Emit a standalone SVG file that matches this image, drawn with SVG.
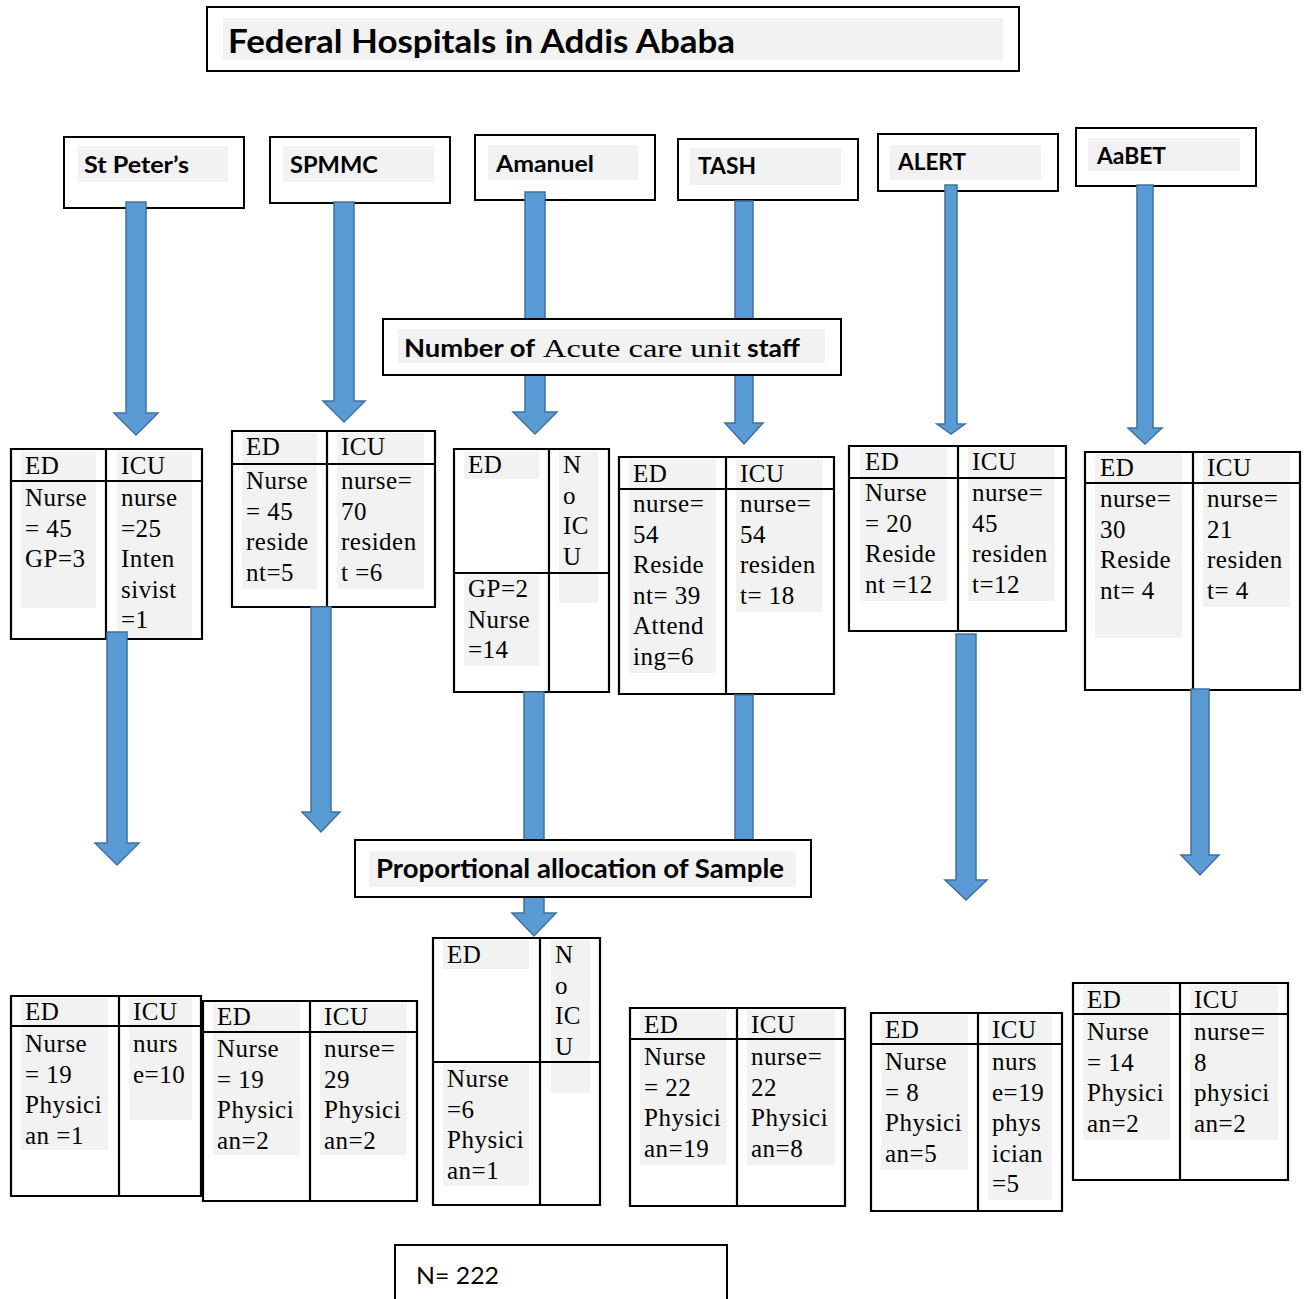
<svg xmlns="http://www.w3.org/2000/svg" width="1309" height="1299" viewBox="0 0 1309 1299">
<style>
.box{fill:#fff;stroke:#000;stroke-width:2}
.bg{fill:#fff}
.grid{fill:none;stroke:#000;stroke-width:2.2}
.hl{fill:#F2F2F2}
.lbl{font-family:Lato,"Liberation Sans",sans-serif;font-weight:bold;fill:#000}
.reg{font-family:Lato,"Liberation Sans",sans-serif;fill:#000}
.t{font-family:"Liberation Serif","Times New Roman",serif;font-size:25px;letter-spacing:0.5px;fill:#000}
.arr{fill:#5B9BD5;stroke:#41719C;stroke-width:1.5}
</style>
<rect width="1309" height="1299" fill="#fff"/>

<g id="title">
<rect class="box" x="207" y="7" width="812" height="64"/>
<rect class="hl" x="223" y="18" width="780" height="42"/>
<text class="lbl" x="228" y="53" font-size="32" textLength="507" lengthAdjust="spacingAndGlyphs">Federal Hospitals in Addis Ababa</text>
</g>

<g id="h-stpeters">
<rect class="box" x="64" y="137" width="180" height="71"/>
<rect class="hl" x="78" y="146" width="150" height="36"/>
<text class="lbl" x="84" y="173" font-size="22" textLength="105" lengthAdjust="spacingAndGlyphs">St Peter’s</text>
</g>
<g id="h-spmmc">
<rect class="box" x="270" y="137" width="180" height="66"/>
<rect class="hl" x="283" y="146" width="151" height="36"/>
<text class="lbl" x="290" y="173" font-size="22" textLength="88" lengthAdjust="spacingAndGlyphs">SPMMC</text>
</g>
<g id="h-amanuel">
<rect class="box" x="475" y="135" width="180" height="65"/>
<rect class="hl" x="488" y="145" width="150" height="35"/>
<text class="lbl" x="496" y="172" font-size="22" textLength="98" lengthAdjust="spacingAndGlyphs">Amanuel</text>
</g>
<g id="h-tash">
<rect class="box" x="678" y="139" width="180" height="61"/>
<rect class="hl" x="690" y="148" width="151" height="37"/>
<text class="lbl" x="698" y="174" font-size="22" textLength="58" lengthAdjust="spacingAndGlyphs">TASH</text>
</g>
<g id="h-alert">
<rect class="box" x="878" y="134" width="180" height="57"/>
<rect class="hl" x="890" y="145" width="151" height="35"/>
<text class="lbl" x="898" y="170" font-size="22" textLength="68" lengthAdjust="spacingAndGlyphs">ALERT</text>
</g>
<g id="h-aabet">
<rect class="box" x="1076" y="128" width="180" height="58"/>
<rect class="hl" x="1088" y="138" width="152" height="33"/>
<text class="lbl" x="1097" y="164" font-size="22" textLength="69" lengthAdjust="spacingAndGlyphs">AaBET</text>
</g>

<!-- staff tables -->
<g id="s-stpeters">
<rect class="bg" x="11" y="449" width="191" height="190"/>
<rect class="hl" x="21" y="451" width="75" height="157"/>
<rect class="hl" x="117" y="451" width="75" height="188"/>
<text class="t" x="25" y="474">ED</text>
<text class="t"><tspan x="25" y="506">Nurse</tspan><tspan x="25" y="536.5">= 45</tspan><tspan x="25" y="567">GP=3</tspan></text>
<text class="t" x="121" y="474">ICU</text>
<text class="t"><tspan x="121" y="506">nurse</tspan><tspan x="121" y="536.5">=25</tspan><tspan x="121" y="567">Inten</tspan><tspan x="121" y="597.5">sivist</tspan><tspan x="121" y="628">=1</tspan></text>
<path class="grid" d="M11 449H202V639H11Z M106 449V639 M11 481H202"/>
</g>
<g id="s-spmmc">
<rect class="bg" x="232" y="431" width="203" height="176"/>
<rect class="hl" x="242" y="433" width="75" height="156"/>
<rect class="hl" x="337" y="433" width="87" height="156"/>
<text class="t" x="246" y="455">ED</text>
<text class="t"><tspan x="246" y="489">Nurse</tspan><tspan x="246" y="519.5">= 45</tspan><tspan x="246" y="550">reside</tspan><tspan x="246" y="580.5">nt=5</tspan></text>
<text class="t" x="341" y="455">ICU</text>
<text class="t"><tspan x="341" y="489">nurse=</tspan><tspan x="341" y="519.5">70</tspan><tspan x="341" y="550">residen</tspan><tspan x="341" y="580.5">t =6</tspan></text>
<path class="grid" d="M232 431H435V607H232Z M327 431V607 M232 464H435"/>
</g>
<g id="s-amanuel">
<rect class="bg" x="454" y="449" width="155" height="243"/>
<rect class="hl" x="464" y="451" width="75" height="28"/>
<rect class="hl" x="559" y="451" width="39" height="152"/>
<rect class="hl" x="464" y="575" width="75" height="91"/>
<text class="t" x="468" y="473">ED</text>
<text class="t"><tspan x="563" y="473">N</tspan><tspan x="563" y="503.5">o</tspan><tspan x="563" y="534">IC</tspan><tspan x="563" y="564.5">U</tspan></text>
<text class="t"><tspan x="468" y="597">GP=2</tspan><tspan x="468" y="627.5">Nurse</tspan><tspan x="468" y="658">=14</tspan></text>
<path class="grid" d="M454 449H609V692H454Z M549 449V692 M454 573H609"/>
</g>
<g id="s-tash">
<rect class="bg" x="619" y="457" width="215" height="237"/>
<rect class="hl" x="629" y="459" width="87" height="214"/>
<rect class="hl" x="736" y="459" width="87" height="153"/>
<text class="t" x="633" y="482">ED</text>
<text class="t"><tspan x="633" y="512">nurse=</tspan><tspan x="633" y="542.5">54</tspan><tspan x="633" y="573">Reside</tspan><tspan x="633" y="603.5">nt= 39</tspan><tspan x="633" y="634">Attend</tspan><tspan x="633" y="664.5">ing=6</tspan></text>
<text class="t" x="740" y="482">ICU</text>
<text class="t"><tspan x="740" y="512">nurse=</tspan><tspan x="740" y="542.5">54</tspan><tspan x="740" y="573">residen</tspan><tspan x="740" y="603.5">t= 18</tspan></text>
<path class="grid" d="M619 457H834V694H619Z M726 457V694 M619 489H834"/>
</g>
<g id="s-alert">
<rect class="bg" x="849" y="446" width="217" height="185"/>
<rect class="hl" x="860" y="448" width="87" height="153"/>
<rect class="hl" x="968" y="448" width="87" height="153"/>
<text class="t" x="865" y="470">ED</text>
<text class="t"><tspan x="865" y="501">Nurse</tspan><tspan x="865" y="531.5">= 20</tspan><tspan x="865" y="562">Reside</tspan><tspan x="865" y="592.5">nt =12</tspan></text>
<text class="t" x="972" y="470">ICU</text>
<text class="t"><tspan x="972" y="501">nurse=</tspan><tspan x="972" y="531.5">45</tspan><tspan x="972" y="562">residen</tspan><tspan x="972" y="592.5">t=12</tspan></text>
<path class="grid" d="M849 446H1066V631H849Z M958 446V631 M849 478H1066"/>
</g>
<g id="s-aabet">
<rect class="bg" x="1085" y="452" width="215" height="238"/>
<rect class="hl" x="1095" y="454" width="87" height="184"/>
<rect class="hl" x="1203" y="454" width="87" height="153"/>
<text class="t" x="1100" y="476">ED</text>
<text class="t"><tspan x="1100" y="507">nurse=</tspan><tspan x="1100" y="537.5">30</tspan><tspan x="1100" y="568">Reside</tspan><tspan x="1100" y="598.5">nt= 4</tspan></text>
<text class="t" x="1207" y="476">ICU</text>
<text class="t"><tspan x="1207" y="507">nurse=</tspan><tspan x="1207" y="537.5">21</tspan><tspan x="1207" y="568">residen</tspan><tspan x="1207" y="598.5">t= 4</tspan></text>
<path class="grid" d="M1085 452H1300V690H1085Z M1193 452V690 M1085 483H1300"/>
</g>

<!-- sample tables -->
<g id="p-stpeters">
<rect class="bg" x="11" y="996" width="190" height="200"/>
<rect class="hl" x="21" y="998" width="87" height="152"/>
<rect class="hl" x="129" y="998" width="63" height="122"/>
<text class="t" x="25" y="1020">ED</text>
<text class="t"><tspan x="25" y="1052">Nurse</tspan><tspan x="25" y="1082.5">= 19</tspan><tspan x="25" y="1113">Physici</tspan><tspan x="25" y="1143.5">an =1</tspan></text>
<text class="t" x="133" y="1020">ICU</text>
<text class="t"><tspan x="133" y="1052">nurs</tspan><tspan x="133" y="1082.5">e=10</tspan></text>
<path class="grid" d="M11 996H201V1196H11Z M119 996V1196 M11 1026H201"/>
</g>
<g id="p-spmmc">
<rect class="bg" x="203" y="1001" width="214" height="200"/>
<rect class="hl" x="213" y="1003" width="87" height="152"/>
<rect class="hl" x="320" y="1003" width="87" height="152"/>
<text class="t" x="217" y="1025">ED</text>
<text class="t"><tspan x="217" y="1057">Nurse</tspan><tspan x="217" y="1087.5">= 19</tspan><tspan x="217" y="1118">Physici</tspan><tspan x="217" y="1148.5">an=2</tspan></text>
<text class="t" x="324" y="1025">ICU</text>
<text class="t"><tspan x="324" y="1057">nurse=</tspan><tspan x="324" y="1087.5">29</tspan><tspan x="324" y="1118">Physici</tspan><tspan x="324" y="1148.5">an=2</tspan></text>
<path class="grid" d="M203 1001H417V1201H203Z M310 1001V1201 M203 1032H417"/>
</g>
<g id="p-amanuel">
<rect class="bg" x="433" y="938" width="167" height="267"/>
<rect class="hl" x="443" y="940" width="86" height="29"/>
<rect class="hl" x="551" y="940" width="39" height="153"/>
<rect class="hl" x="443" y="1064" width="86" height="122"/>
<text class="t" x="447" y="963">ED</text>
<text class="t"><tspan x="555" y="963">N</tspan><tspan x="555" y="993.5">o</tspan><tspan x="555" y="1024">IC</tspan><tspan x="555" y="1054.5">U</tspan></text>
<text class="t"><tspan x="447" y="1087">Nurse</tspan><tspan x="447" y="1117.5">=6</tspan><tspan x="447" y="1148">Physici</tspan><tspan x="447" y="1178.5">an=1</tspan></text>
<path class="grid" d="M433 938H600V1205H433Z M540 938V1205 M433 1062H600"/>
</g>
<g id="p-tash">
<rect class="bg" x="630" y="1008" width="215" height="198"/>
<rect class="hl" x="640" y="1010" width="87" height="155"/>
<rect class="hl" x="747" y="1010" width="88" height="155"/>
<text class="t" x="644" y="1033">ED</text>
<text class="t"><tspan x="644" y="1065">Nurse</tspan><tspan x="644" y="1095.5">= 22</tspan><tspan x="644" y="1126">Physici</tspan><tspan x="644" y="1156.5">an=19</tspan></text>
<text class="t" x="751" y="1033">ICU</text>
<text class="t"><tspan x="751" y="1065">nurse=</tspan><tspan x="751" y="1095.5">22</tspan><tspan x="751" y="1126">Physici</tspan><tspan x="751" y="1156.5">an=8</tspan></text>
<path class="grid" d="M630 1008H845V1206H630Z M737 1008V1206 M630 1039H845"/>
</g>
<g id="p-alert">
<rect class="bg" x="871" y="1013" width="191" height="198"/>
<rect class="hl" x="881" y="1015" width="87" height="155"/>
<rect class="hl" x="988" y="1015" width="64" height="185"/>
<text class="t" x="885" y="1038">ED</text>
<text class="t"><tspan x="885" y="1070">Nurse</tspan><tspan x="885" y="1100.5">= 8</tspan><tspan x="885" y="1131">Physici</tspan><tspan x="885" y="1161.5">an=5</tspan></text>
<text class="t" x="992" y="1038">ICU</text>
<text class="t"><tspan x="992" y="1070">nurs</tspan><tspan x="992" y="1100.5">e=19</tspan><tspan x="992" y="1131">phys</tspan><tspan x="992" y="1161.5">ician</tspan><tspan x="992" y="1192">=5</tspan></text>
<path class="grid" d="M871 1013H1062V1211H871Z M978 1013V1211 M871 1044H1062"/>
</g>
<g id="p-aabet">
<rect class="bg" x="1073" y="983" width="215" height="197"/>
<rect class="hl" x="1083" y="985" width="87" height="155"/>
<rect class="hl" x="1190" y="985" width="88" height="155"/>
<text class="t" x="1087" y="1008">ED</text>
<text class="t"><tspan x="1087" y="1040">Nurse</tspan><tspan x="1087" y="1070.5">= 14</tspan><tspan x="1087" y="1101">Physici</tspan><tspan x="1087" y="1131.5">an=2</tspan></text>
<text class="t" x="1194" y="1008">ICU</text>
<text class="t"><tspan x="1194" y="1040">nurse=</tspan><tspan x="1194" y="1070.5">8</tspan><tspan x="1194" y="1101">physici</tspan><tspan x="1194" y="1131.5">an=2</tspan></text>
<path class="grid" d="M1073 983H1288V1180H1073Z M1180 983V1180 M1073 1014H1288"/>
</g>

<g id="connectors">
<path class="arr" d="M126 202H146V413H158L136 435L114 413H126Z"/>
<path class="arr" d="M334 202H354V401H365L344 422L323 401H334Z"/>
<path class="arr" d="M525 192H545V412H557L535 434L513 412H525Z"/>
<path class="arr" d="M735 201H753V423H763L744 444L725 423H735Z"/>
<path class="arr" d="M945 185H957V424H965L951 434L937 424H945Z"/>
<path class="arr" d="M1137 185H1153V428H1162L1145 444L1128 428H1137Z"/>
<path class="arr" d="M107 632H127V843H139L117 865L95 843H107Z"/>
<path class="arr" d="M311 607H331V812H340L321 832L302 812H311Z"/>
<path class="arr" d="M524 692H544V913H556L534 936L512 913H524Z"/>
<path class="arr" d="M735 695H753V850H735Z"/>
<path class="arr" d="M956 634H976V880H987L966 900L945 880H956Z"/>
<path class="arr" d="M1191 689H1209V855H1219L1200 875L1181 855H1191Z"/>
</g>

<g id="staff-label">
<rect class="box" x="383" y="319" width="458" height="56"/>
<rect class="hl" x="398" y="329" width="427" height="34"/>
<text class="lbl" x="404" y="357" font-size="25" textLength="131" lengthAdjust="spacingAndGlyphs">Number of</text>
<text class="t" x="543" y="357" style="font-size:25px;letter-spacing:0" textLength="198" lengthAdjust="spacingAndGlyphs">Acute care unit</text>
<text class="lbl" x="747" y="357" font-size="25" textLength="53" lengthAdjust="spacingAndGlyphs">staff</text>
</g>

<g id="sample-label">
<rect class="box" x="355" y="840" width="456" height="57"/>
<rect class="hl" x="369" y="851" width="427" height="36"/>
<text class="lbl" x="376" y="878" font-size="27" textLength="408" lengthAdjust="spacingAndGlyphs">Proportional allocation of Sample</text>
</g>

<g id="total">
<rect class="box" x="395" y="1245" width="332" height="70"/>
<text class="reg" x="416" y="1284" font-size="24" textLength="83" lengthAdjust="spacingAndGlyphs">N= 222</text>
</g>
</svg>
